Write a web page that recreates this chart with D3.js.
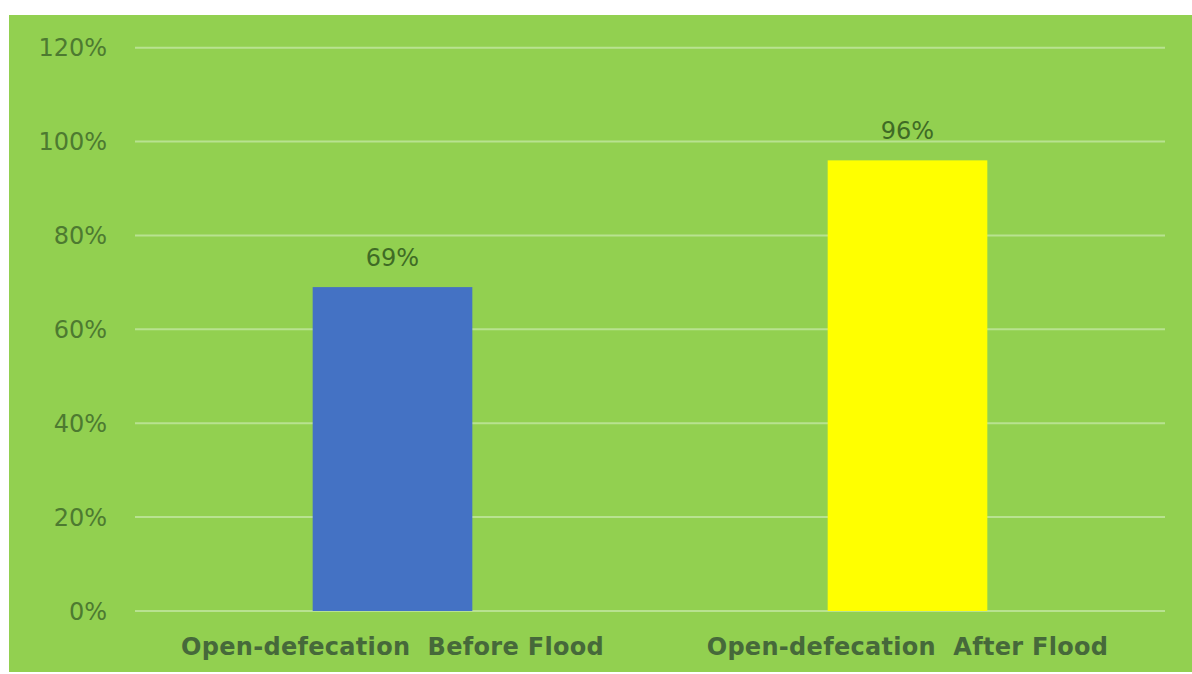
<!DOCTYPE html>
<html>
<head>
<meta charset="utf-8">
<script src="https://cdn.jsdelivr.net/npm/d3@7/dist/d3.min.js"></script>
<style>
  html, body { margin: 0; padding: 0; background: #ffffff; }
  svg { display: block; }
</style>
</head>
<body>
<svg id="chart" width="1192" height="674"></svg>
<script>
// Share of households practising open defecation
const categories = ["Open-defecation  Before Flood", "Open-defecation  After Flood"];
const values = [0.69, 0.96];
const barColors = ["#4472c4", "#ffff00"];
const tickValues = [0, 0.2, 0.4, 0.6, 0.8, 1.0, 1.2];
const tickLabels = ["0%", "20%", "40%", "60%", "80%", "100%", "120%"];

const W = 1192, H = 674;
const svg = d3.select("#chart");

// green chart area
svg.append("rect")
  .attr("x", 9).attr("y", 15)
  .attr("width", W - 9).attr("height", H - 15 - 2)
  .attr("fill", "#92d050");

const plot = { left: 135, right: 1165, top: 47.7, bottom: 611 };

const x = d3.scaleBand()
  .domain(categories)
  .range([plot.left, plot.right])
  .paddingInner(0)
  .paddingOuter(0);

const y = d3.scaleLinear()
  .domain([0, 1.2])
  .range([plot.bottom, plot.top]);

// horizontal gridlines
svg.append("g")
  .selectAll("line")
  .data(tickValues)
  .join("line")
  .attr("x1", plot.left).attr("x2", plot.right)
  .attr("y1", d => y(d)).attr("y2", d => y(d))
  .attr("stroke", "#b8e290")
  .attr("stroke-width", 2);

// y-axis labels
svg.append("g")
  .selectAll("text")
  .data(tickValues)
  .join("text")
  .attr("x", 107)
  .attr("y", d => y(d))
  .attr("dy", "0.36em")
  .attr("text-anchor", "end")
  .attr("font-family", "DejaVu Sans, sans-serif")
  .attr("font-size", 24)
  .attr("fill", "#4d7a30")
  .text((d, i) => tickLabels[i]);

// bars
const barW = x.bandwidth() * 0.31;
svg.append("g")
  .selectAll("rect")
  .data(values)
  .join("rect")
  .attr("x", (d, i) => x(categories[i]) + (x.bandwidth() - barW) / 2)
  .attr("y", d => y(d))
  .attr("width", barW)
  .attr("height", d => y(0) - y(d))
  .attr("fill", (d, i) => barColors[i]);

// value labels
svg.append("g")
  .selectAll("text")
  .data(values)
  .join("text")
  .attr("x", (d, i) => x(categories[i]) + x.bandwidth() / 2)
  .attr("y", d => y(d) - 21)
  .attr("text-anchor", "middle")
  .attr("font-family", "DejaVu Sans, sans-serif")
  .attr("font-size", 24)
  .attr("fill", "#3f6b25")
  .text(d => Math.round(d * 100) + "%");

// category labels
svg.append("g")
  .selectAll("text")
  .data(categories)
  .join("text")
  .attr("x", d => x(d) + x.bandwidth() / 2)
  .attr("y", 655)
  .attr("text-anchor", "middle")
  .attr("font-family", "DejaVu Sans, sans-serif")
  .attr("font-weight", "bold")
  .attr("font-size", 24)
  .attr("letter-spacing", 0.3)
  .attr("fill", "#46693a")
  .attr("xml:space", "preserve")
  .style("white-space", "pre")
  .text(d => d);
</script>
</body>
</html>
